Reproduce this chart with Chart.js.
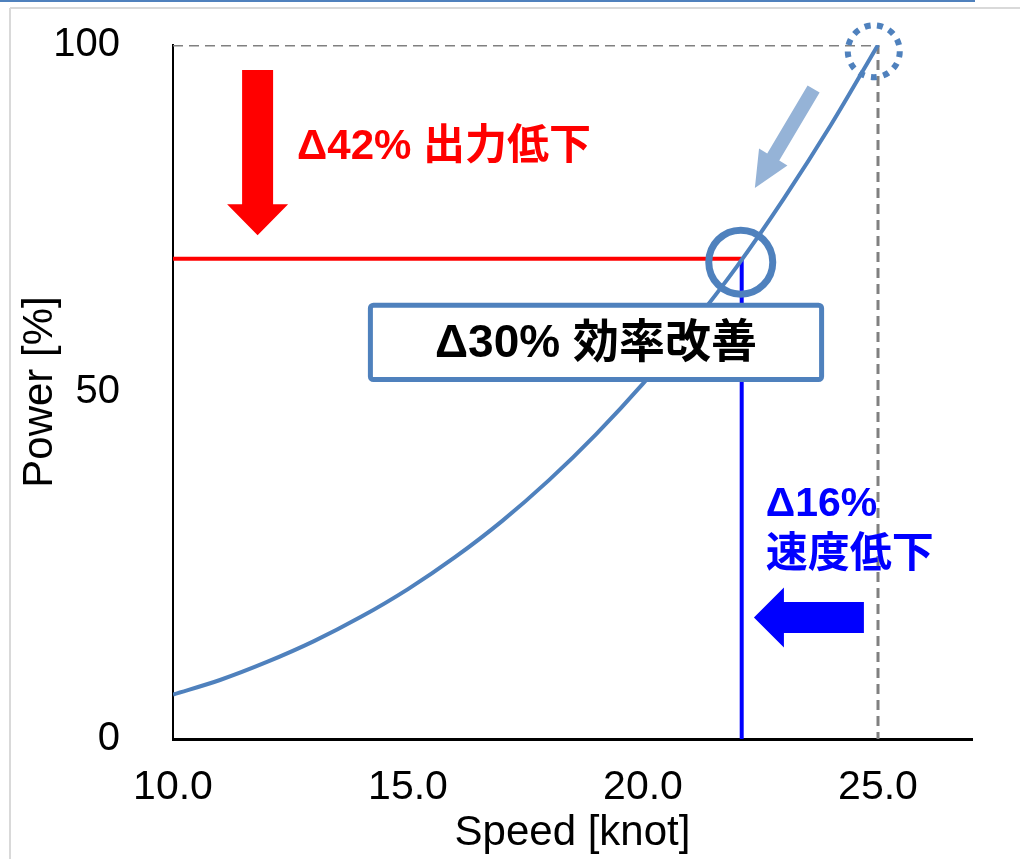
<!DOCTYPE html>
<html>
<head>
<meta charset="utf-8">
<script src="https://cdn.jsdelivr.net/npm/chart.js@4.4.0/dist/chart.umd.min.js"></script>
<style>
  body { margin: 0; background: #fff; }
  canvas { display: block; }
</style>
</head>
<body>
<canvas id="myChart" width="1020" height="859"></canvas>
<script>
// speed [knot] vs power [%]
var speeds = [10, 11, 12, 13, 14, 15, 16, 17, 18, 19, 20, 21, 22, 23, 24, 25];
var power = [6.4, 8.5, 11.1, 14.1, 17.6, 21.6, 26.2, 31.4, 37.3, 43.9, 51.2, 59.3, 68.1, 77.9, 88.5, 100];

var xTicks = [10, 15, 20, 25];
var yTicks = [0, 50, 100];

var ratedSpeed = 25;
var ratedPower = 100;
var reducedSpeed = 22.1;
var reducedPower = 69.2;

var powerText = 'Δ42% 出力低下';
var effText = 'Δ30% 効率改善';
var speedText1 = 'Δ16%';
var speedText2 = '速度低下';

var steel = '#4F81BD';
var latin = '"Liberation Sans", Arial, "Noto Sans CJK JP"';

function arrow(ctx, x1, y1, x2, y2, w, hw, hl) {
  var dx = x2 - x1, dy = y2 - y1;
  var len = Math.sqrt(dx * dx + dy * dy);
  var ux = dx / len, uy = dy / len;
  var nx = -uy, ny = ux;
  var bx = x2 - ux * hl, by = y2 - uy * hl;
  ctx.beginPath();
  ctx.moveTo(x1 + nx * w / 2, y1 + ny * w / 2);
  ctx.lineTo(bx + nx * w / 2, by + ny * w / 2);
  ctx.lineTo(bx + nx * hw / 2, by + ny * hw / 2);
  ctx.lineTo(x2, y2);
  ctx.lineTo(bx - nx * hw / 2, by - ny * hw / 2);
  ctx.lineTo(bx - nx * w / 2, by - ny * w / 2);
  ctx.lineTo(x1 - nx * w / 2, y1 - ny * w / 2);
  ctx.closePath();
  ctx.fill();
}

function noPad(s) {
  s.paddingTop = 0;
  s.paddingBottom = 0;
  s.paddingLeft = 0;
  s.paddingRight = 0;
}

var notesPlugin = {
  id: 'notes',
  beforeDraw: function (chart) {
    var ctx = chart.ctx;
    ctx.save();
    ctx.fillStyle = '#fff';
    ctx.fillRect(0, 0, chart.width, chart.height);
    ctx.strokeStyle = steel;
    ctx.lineWidth = 2;
    ctx.beginPath(); ctx.moveTo(0, 1); ctx.lineTo(975, 1); ctx.stroke();
    ctx.strokeStyle = '#D9D9D9';
    ctx.beginPath(); ctx.moveTo(10, 8); ctx.lineTo(1020, 8); ctx.moveTo(10, 8); ctx.lineTo(10, 859); ctx.stroke();
    ctx.restore();
  },
  afterDatasetsDraw: function (chart) {
    var ctx = chart.ctx;
    var xs = chart.scales.x, ys = chart.scales.y;
    var px = function (v) { return xs.getPixelForValue(v); };
    var py = function (v) { return ys.getPixelForValue(v); };
    ctx.save();

    // red arrow: power drop
    ctx.fillStyle = '#FF0000';
    arrow(ctx, px(11.8), py(96.4), px(11.8), py(72.6), 31, 61, 31);
    ctx.font = 'bold 42px ' + latin;
    ctx.textBaseline = 'middle';
    ctx.textAlign = 'left';
    ctx.fillText(powerText, px(12.64), py(85.3));

    // light blue arrow along the curve
    ctx.fillStyle = '#95B3D7';
    arrow(ctx, px(23.63), py(93.66), px(22.38), py(79.4), 14, 33, 36);

    // dotted circle at rated point
    ctx.strokeStyle = steel;
    ctx.lineWidth = 6;
    ctx.setLineDash([6, 6.5]);
    ctx.beginPath();
    ctx.arc(px(24.91), py(99.1), 26, 0, Math.PI * 2);
    ctx.stroke();
    ctx.setLineDash([]);

    // circle at reduced point
    ctx.lineWidth = 7;
    ctx.beginPath();
    ctx.arc(px(22.08), py(68.7), 32, 0, Math.PI * 2);
    ctx.stroke();

    // efficiency box
    var bx1 = px(14.2), bx2 = px(23.8), by1 = py(62.5), by2 = py(51.8);
    ctx.fillStyle = '#fff';
    ctx.lineWidth = 5;
    ctx.beginPath();
    ctx.roundRect(bx1, by1, bx2 - bx1, by2 - by1, 3);
    ctx.fill();
    ctx.stroke();
    ctx.fillStyle = '#000';
    ctx.font = 'bold 46px ' + latin;
    ctx.textAlign = 'center';
    ctx.fillText(effText, (bx1 + bx2) / 2, (by1 + by2) / 2 + 2);

    // blue speed note and arrow
    ctx.fillStyle = '#0000FF';
    ctx.textAlign = 'left';
    ctx.font = 'bold 41px ' + latin;
    ctx.fillText(speedText1, px(22.61), py(33.7));
    ctx.font = 'bold 42px ' + latin;
    ctx.fillText(speedText2, px(22.61), py(26.4));
    arrow(ctx, px(24.7), py(17.5), px(22.36), py(17.5), 31, 60, 30);

    ctx.restore();
  }
};

var ctx = document.getElementById('myChart').getContext('2d');

var chart = new Chart(ctx, {
  type: 'line',
  data: {
    datasets: [{
      label: 'Power',
      data: speeds.map(function (s, i) { return { x: s, y: power[i] }; }),
      borderColor: steel,
      borderWidth: 4,
      pointRadius: 0,
      cubicInterpolationMode: 'monotone'
    }, {
      label: 'power drop',
      data: [{ x: speeds[0], y: reducedPower }, { x: reducedSpeed, y: reducedPower }],
      borderColor: '#FF0000',
      borderWidth: 4,
      pointRadius: 0
    }, {
      label: 'speed drop',
      data: [{ x: reducedSpeed, y: 0 }, { x: reducedSpeed, y: reducedPower }],
      borderColor: '#0000FF',
      borderWidth: 4,
      pointRadius: 0
    }, {
      label: 'rated',
      data: [{ x: speeds[0], y: ratedPower }, { x: ratedSpeed, y: ratedPower }, { x: ratedSpeed, y: 0 }],
      borderColor: '#808080',
      borderWidth: 3,
      borderDash: [10, 6],
      pointRadius: 0
    }]
  },
  options: {
    responsive: false,
    animation: false,
    layout: { padding: { left: 0, top: 45, right: 48, bottom: 0 } },
    plugins: { legend: { display: false }, tooltip: { enabled: false } },
    scales: {
      x: {
        type: 'linear',
        min: 10,
        max: 27,
        afterFit: function (s) { s.height = 120; noPad(s); },
        afterBuildTicks: function (s) { s.ticks = xTicks.map(function (v) { return { value: v }; }); },
        grid: { display: false, drawTicks: false },
        border: { display: true, color: '#000', width: 3 },
        ticks: {
          padding: 24,
          color: '#000',
          font: { family: latin, size: 41 },
          callback: function (v) { return Number(v).toFixed(1); }
        },
        title: {
          display: true,
          text: 'Speed [knot]',
          color: '#000',
          font: { family: latin, size: 42 },
          padding: { top: 0, bottom: 0 }
        }
      },
      y: {
        min: 0,
        max: 100,
        afterFit: function (s) { s.width = 173; noPad(s); },
        afterBuildTicks: function (s) { s.ticks = yTicks.map(function (v) { return { value: v }; }); },
        grid: { display: false, drawTicks: false },
        border: { display: true, color: '#000', width: 2 },
        ticks: {
          padding: 53,
          color: '#000',
          font: { family: latin, size: 40 }
        },
        title: {
          display: true,
          text: 'Power [%]',
          color: '#000',
          font: { family: latin, size: 42 },
          padding: { top: 15, bottom: 0 }
        }
      }
    }
  },
  plugins: [notesPlugin]
});
</script>
</body>
</html>
